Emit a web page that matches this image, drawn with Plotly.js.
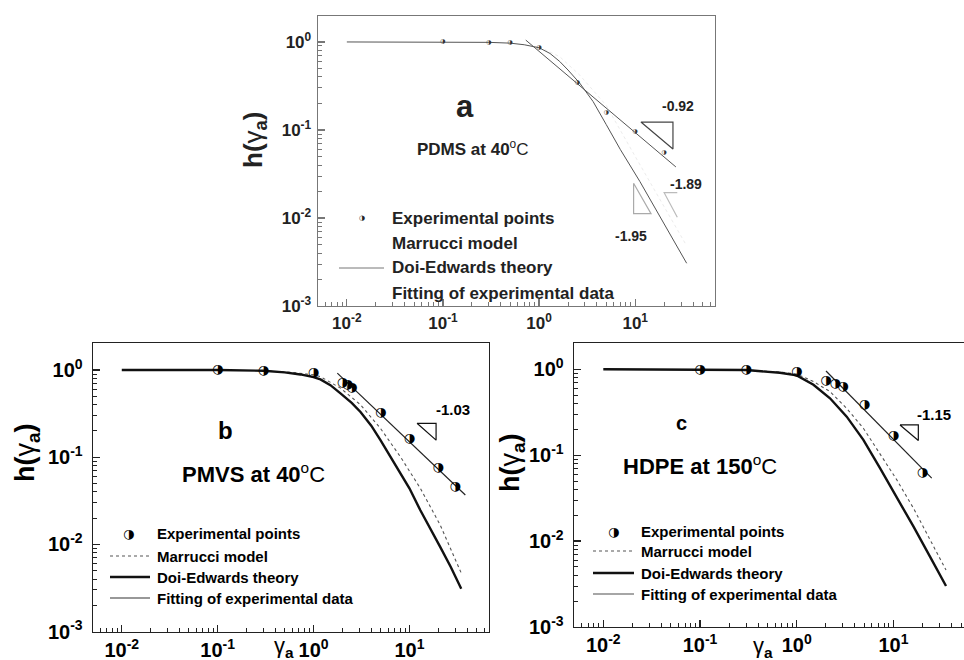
<!DOCTYPE html>
<html><head><meta charset="utf-8">
<script src="https://cdn.plot.ly/plotly-3.0.1.min.js"></script>
<style>html,body{margin:0;padding:0;background:#fff;}#chart{width:964px;height:660px;}</style>
</head><body><div id="chart"></div>
<script>
// ---------- Panel a : PDMS at 40 °C ----------
const aExpX = [0.1, 0.3, 0.5, 1.0, 2.5, 5, 10, 20];
const aExpY = [1.0, 0.99, 0.98, 0.86, 0.345, 0.157, 0.095, 0.055];
const aDeX  = [0.01, 0.1, 0.3, 0.5, 0.7, 1.0, 1.3, 1.64, 2.0, 2.65, 3.65, 5, 7, 11.2, 20, 34.3];
const aDeY  = [1.0, 1.0, 0.99, 0.97, 0.93, 0.86, 0.74, 0.6, 0.48, 0.34, 0.21, 0.115, 0.06, 0.0259, 0.0086, 0.00306];
const aMarX = [1.0, 1.64, 2.65, 5, 10, 15.2, 22.9, 34];
const aMarY = [0.88, 0.68, 0.42, 0.19, 0.05, 0.0227, 0.0104, 0.0049];
const aFitX = [0.727, 26.5];
const aFitY = [1.05, 0.038];
const aTri1X = [11.46, 24.7, 24.7, 11.46];   // slope -0.92
const aTri1Y = [0.123, 0.123, 0.0608, 0.123];
const aTri2X = [9.62, 9.62, 14.6, 9.62];     // slope -1.95
const aTri2Y = [0.0248, 0.0112, 0.0112, 0.0248];
const aTri3X = [27.4, 20.0, 27.4];           // slope -1.89
const aTri3Y = [0.0194, 0.0194, 0.0102];

// ---------- Panel b : PMVS at 40 °C ----------
const bExpX = [0.1, 0.3, 1.0, 2.0, 2.25, 2.5, 5, 10, 20, 30];
const bExpY = [1.0, 0.98, 0.93, 0.71, 0.67, 0.63, 0.324, 0.164, 0.075, 0.046];
const bDeX  = [0.01, 0.1, 0.3, 0.5, 0.73, 1.0, 1.18, 1.5, 1.91, 2.5, 3.09, 4, 4.99, 6.5, 8.06, 10, 13, 17, 21, 27, 34.7];
const bDeY  = [1.0, 1.0, 0.98, 0.94, 0.89, 0.83, 0.78, 0.67, 0.54, 0.42, 0.33, 0.23, 0.157, 0.097, 0.065, 0.044, 0.0246, 0.0145, 0.0093, 0.0055, 0.0031];
const bMarX = [0.3, 0.6, 1.0, 1.18, 1.91, 3.09, 4.99, 8.06, 13.0, 21.0, 34.7];
const bMarY = [0.98, 0.94, 0.88, 0.84, 0.62, 0.40, 0.214, 0.101, 0.044, 0.0166, 0.0047];
const bFitX = [1.77, 38.3];
const bFitY = [0.92, 0.0368];
const bTriX = [12.0, 18.97, 18.97, 12.0];     // slope -1.03
const bTriY = [0.245, 0.245, 0.157, 0.245];

// ---------- Panel c : HDPE at 150 °C ----------
const cExpX = [0.1, 0.3, 1.0, 2.0, 2.5, 3.0, 5, 10, 20];
const cExpY = [1.0, 0.99, 0.94, 0.74, 0.68, 0.63, 0.39, 0.169, 0.063];
const cDeX  = [0.01, 0.1, 0.3, 0.67, 1.0, 1.49, 2.21, 3.29, 4.89, 7.27, 10.8, 16.1, 23.9, 35.0];
const cDeY  = [1.0, 1.0, 0.98, 0.91, 0.85, 0.66, 0.46, 0.281, 0.151, 0.0706, 0.033, 0.0148, 0.0066, 0.0030];
const cMarX = [0.3, 0.67, 1.0, 1.49, 2.21, 3.29, 4.89, 7.27, 10.8, 16.1, 23.9, 35.0];
const cMarY = [0.98, 0.93, 0.88, 0.72, 0.55, 0.35, 0.206, 0.105, 0.052, 0.0242, 0.0104, 0.0046];
const cFitX = [2.01, 24.9];
const cFitY = [0.955, 0.054];
const cTriX = [11.7, 18.1, 18.1, 11.7];       // slope -1.15
const cTriY = [0.225, 0.225, 0.148, 0.225];

// ---------- tick labels ----------
const xTickVals = [0.01, 0.1, 1, 10];
const xTickText = ['10<sup>-2</sup>', '10<sup>-1</sup>', '10<sup>0</sup>', '10<sup>1</sup>'];
const yTickVals = [0.001, 0.01, 0.1, 1];
const yTickText = ['10<sup>-3</sup>', '10<sup>-2</sup>', '10<sup>-1</sup>', '10<sup>0</sup>'];

const legendLabels = ['Experimental points', 'Marrucci model', 'Doi-Edwards theory', 'Fitting of experimental data'];
const HALF = '\u25D1';
const FONT = 'Liberation Sans, Arial, sans-serif';

const W = 964, H = 660;
const PX = p => p / W, PY = p => 1 - p / H;

function line(x, y, xa, ya, color, width, dash) {
  return {x: x, y: y, xaxis: xa, yaxis: ya, type: 'scatter', mode: 'lines',
    line: {color: color, width: width, dash: dash || 'solid'}, hoverinfo: 'skip'};
}
function pts(x, y, xa, ya, size, color) {
  return {x: x, y: y, xaxis: xa, yaxis: ya, type: 'scatter', mode: 'text',
    text: x.map(() => HALF), textposition: 'middle center',
    textfont: {family: 'DejaVu Sans', size: size, color: color}, hoverinfo: 'skip'};
}

const traces = [
  // panel a
  line(aMarX, aMarY, 'x', 'y', '#ececec', 1, 'dot'),
  line(aDeX, aDeY, 'x', 'y', '#555', 1),
  line(aFitX, aFitY, 'x', 'y', '#555', 1),
  line(aTri1X, aTri1Y, 'x', 'y', '#444', 1.2),
  line(aTri2X, aTri2Y, 'x', 'y', '#aaa', 1.2),
  line(aTri3X, aTri3Y, 'x', 'y', '#bbb', 1.2),
  pts(aExpX, aExpY, 'x', 'y', 6, '#333'),
  // panel b
  line(bMarX, bMarY, 'x2', 'y2', '#555', 1.1, 'dot'),
  line(bDeX, bDeY, 'x2', 'y2', '#111', 2.4),
  line(bFitX, bFitY, 'x2', 'y2', '#222', 1.2),
  line(bTriX, bTriY, 'x2', 'y2', '#111', 1.2),
  pts(bExpX, bExpY, 'x2', 'y2', 13, '#000'),
  // panel c
  line(cMarX, cMarY, 'x3', 'y3', '#555', 1.1, 'dot'),
  line(cDeX, cDeY, 'x3', 'y3', '#111', 2.4),
  line(cFitX, cFitY, 'x3', 'y3', '#222', 1.2),
  line(cTriX, cTriY, 'x3', 'y3', '#111', 1.2),
  pts(cExpX, cExpY, 'x3', 'y3', 13, '#000')
];

function xAx(domain, range, anchor, col, fs, mirror, standoff) {
  return {type: 'log', domain: domain, range: range, anchor: anchor,
    showline: true, linecolor: col, linewidth: 1.4, mirror: mirror,
    ticks: 'inside', ticklen: 7, tickwidth: 1.2, tickcolor: col,
    tickmode: 'array', tickvals: xTickVals, ticktext: xTickText,
    tickfont: {family: FONT, size: fs, weight: 'bold', color: col === '#777' ? '#222' : '#000'},
    ticklabelstandoff: standoff,
    minor: {ticks: 'inside', ticklen: 4, tickwidth: 1, tickcolor: col, dtick: 'D1'},
    showgrid: false, zeroline: false, fixedrange: true};
}
function yAx(domain, range, anchor, col, fs, mirror, standoff) {
  return {type: 'log', domain: domain, range: range, anchor: anchor,
    showline: true, linecolor: col, linewidth: 1.4, mirror: mirror,
    ticks: 'inside', ticklen: 7, tickwidth: 1.2, tickcolor: col,
    tickmode: 'array', tickvals: yTickVals, ticktext: yTickText,
    tickfont: {family: FONT, size: fs, weight: 'bold', color: col === '#777' ? '#222' : '#000'},
    ticklabelstandoff: standoff,
    minor: {ticks: 'inside', ticklen: 4, tickwidth: 1, tickcolor: col, dtick: 'D1'},
    showgrid: false, zeroline: false, fixedrange: true};
}

function ann(text, x, y, size, opts) {
  return Object.assign({text: text, x: PX(x), y: PY(y), xref: 'paper', yref: 'paper',
    showarrow: false, xanchor: 'center', yanchor: 'middle',
    font: {family: FONT, size: size, color: '#000'}}, opts || {});
}

const annotations = [];
const shapes = [];

function legend(x0, x1, markX, textX, rows, size, col, samples) {
  annotations.push(ann(HALF, markX, rows[0], samples.msize, {font: {family: 'DejaVu Sans', size: samples.msize, color: col}}));
  for (let i = 0; i < 4; i++) {
    annotations.push(ann('<b>' + legendLabels[i] + '</b>', textX, rows[i], size, {xanchor: 'left', font: {family: FONT, size: size, color: col}}));
  }
  samples.lines.forEach(s => {
    shapes.push({type: 'line', xref: 'paper', yref: 'paper', x0: PX(x0), x1: PX(x1), y0: PY(rows[s.row]), y1: PY(rows[s.row]),
      line: {color: s.color, width: s.width, dash: s.dash || 'solid'}});
  });
}

// panel a texts
annotations.push(ann('<b>a</b>', 465, 106, 31, {font: {family: FONT, size: 31, color: '#222'}}));
annotations.push(ann('<b>PDMS at 40</b><sup>o</sup>C', 473, 148, 17, {font: {family: FONT, size: 17, color: '#222'}}));
annotations.push(ann('<b>-0.92</b>', 678, 106, 14, {font: {family: FONT, size: 14, color: '#222'}}));
annotations.push(ann('<b>-1.89</b>', 686, 184, 14, {font: {family: FONT, size: 14, color: '#222'}}));
annotations.push(ann('<b>-1.95</b>', 631, 236, 14, {font: {family: FONT, size: 14, color: '#222'}}));
annotations.push(ann('<b>h(</b>γ<sub><b>a</b></sub><b>)</b>', 254, 140, 26, {textangle: -90, font: {family: FONT, size: 26, color: '#222'}}));
legend(339, 384, 361.7, 390, [218, 243, 268, 293], 17, '#222',
  {msize: 7, lines: [{row: 2, color: '#777', width: 1}]});

// panel b texts
annotations.push(ann('<b>b</b>', 225, 430, 24));
annotations.push(ann('<b>PMVS at 40</b><sup>o</sup>C', 253, 473, 22));
annotations.push(ann('<b>-1.03</b>', 453, 409, 15));
annotations.push(ann('<b>h(</b>γ<sub><b>a</b></sub><b>)</b>', 27, 453, 27, {textangle: -90}));
annotations.push(ann('γ<sub><b>a</b></sub>', 284, 647, 22));
legend(110, 150, 128, 155, [533, 556, 577, 598], 15, '#000',
  {msize: 13, lines: [{row: 1, color: '#555', width: 1.1, dash: 'dot'}, {row: 2, color: '#111', width: 2.4}, {row: 3, color: '#333', width: 1.2}]});

// panel c texts
annotations.push(ann('<b>c</b>', 681, 423, 20));
annotations.push(ann('<b>HDPE at 150</b><sup>o</sup>C', 700, 465, 22));
annotations.push(ann('<b>-1.15</b>', 934, 414, 15));
annotations.push(ann('<b>h(</b>γ<sub><b>a</b></sub><b>)</b>', 512, 463, 27, {textangle: -90}));
annotations.push(ann('γ<sub><b>a</b></sub>', 763, 647, 22));
legend(593, 634, 613, 639, [531, 551, 573, 594], 15, '#000',
  {msize: 13, lines: [{row: 1, color: '#555', width: 1.1, dash: 'dot'}, {row: 2, color: '#111', width: 2.4}, {row: 3, color: '#888', width: 1.5}]});

const layout = {
  width: W, height: H, margin: {l: 0, r: 0, t: 0, b: 0},
  paper_bgcolor: '#fff', plot_bgcolor: 'rgba(0,0,0,0)', showlegend: false,
  xaxis:  xAx([318 / W, 715 / W], [-2.3, 1.83], 'y', '#777', 17, true, 1),
  yaxis:  yAx([1 - 306 / H, 1 - 16 / H], [-3, 0.295], 'x', '#777', 17, true, 2),
  xaxis2: xAx([93 / W, 489 / W], [-2.3, 1.83], 'y2', '#222', 20, true, 0),
  yaxis2: yAx([1 - 632 / H, 1 - 343 / H], [-3.005, 0.31], 'x2', '#222', 20, true, 5),
  xaxis3: xAx([574 / W, 1], [-2.303, 1.73], 'y3', '#222', 20, true, 0),
  yaxis3: yAx([1 - 627 / H, 1 - 343 / H], [-3, 0.306], 'x3', '#222', 20, false, 5),
  annotations: annotations, shapes: shapes
};

Plotly.newPlot('chart', traces, layout, {staticPlot: true, displayModeBar: false});
</script></body></html>
